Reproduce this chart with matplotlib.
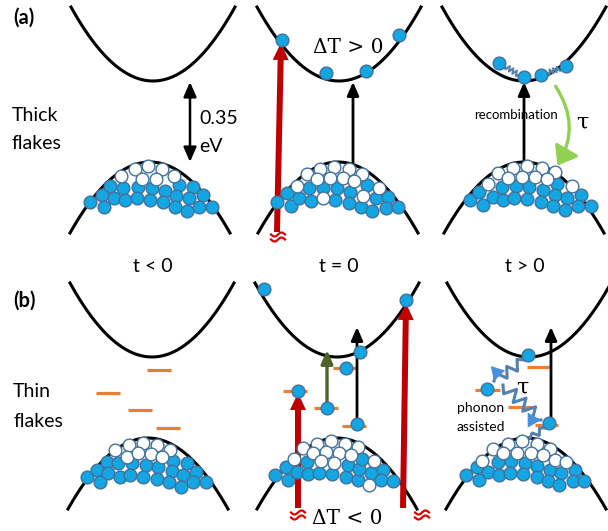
import numpy as np
import matplotlib
matplotlib.use('Agg')
from matplotlib import pyplot as plt
from matplotlib.patches import FancyArrowPatch

plt.rcParams['font.family'] = ['Lato', 'DejaVu Sans']

# pasma: (x, y) wierzcholka pasma przewodnictwa i szczytu pasma walencyjnego
cb_vertices = [(153, 81), (339, 81), (524, 81), (152, 357), (337, 357), (529, 357)]
vb_apexes = [(150, 162), (338, 162), (524, 162), (148, 438), (337, 438), (526, 438)]

# elektrony (pelne) i dziury (puste) w pasmie walencyjnym, panel po panelu
vb_full = [
    [(110, 186), (123, 188), (138, 187), (152, 188), (165, 191), (179, 185), (193, 187),
     (102, 195), (114, 198), (125, 200), (137, 198), (150, 200), (163, 202), (176, 196),
     (189, 198), (203, 195), (90, 202), (104, 207), (175, 207), (187, 211), (199, 207), (212, 207)],
    [(277, 202), (287, 193), (291, 206), (299, 198), (309, 188), (311, 201), (323, 188),
     (335, 200), (337, 188), (350, 192), (349, 203), (361, 207), (367, 185), (372, 211),
     (376, 198), (388, 197), (386, 208), (398, 207)],
    [(470, 200), (479, 192), (483, 205), (493, 197), (502, 187), (503, 200), (516, 186),
     (514, 198), (529, 187), (527, 199), (543, 190), (541, 202), (557, 184), (555, 195),
     (553, 206), (567, 198), (565, 210), (581, 195), (578, 206), (591, 206)],
    [(87, 477), (97, 470), (100, 482), (107, 462), (108, 473), (118, 463), (120, 477),
     (132, 463), (130, 475), (146, 465), (143, 477), (158, 467), (157, 479), (173, 461),
     (172, 471), (169, 482), (187, 463), (183, 475), (181, 487), (196, 472), (193, 482), (206, 482)],
    [(275, 475), (286, 467), (288, 480), (297, 472), (307, 462), (308, 474), (319, 473),
     (332, 474), (346, 477), (348, 465), (358, 480), (359, 469), (362, 459), (371, 473),
     (383, 470), (381, 480), (393, 481)],
    [(466, 475), (477, 467), (479, 480), (488, 472), (498, 462), (499, 475), (511, 461),
     (510, 473), (525, 463), (523, 474), (537, 466), (537, 477), (550, 470), (548, 481),
     (561, 473), (559, 485), (575, 470), (573, 481), (584, 481)],
]
vb_empty = [
    [(121, 176), (135, 169), (148, 166), (162, 169), (174, 176), (142, 179), (156, 179)],
    [(307, 174), (320, 169), (334, 167), (349, 169), (362, 174), (297, 186), (317, 179),
     (330, 178), (343, 178), (354, 181), (323, 198), (363, 196), (379, 188)],
    [(498, 173), (513, 168), (527, 166), (542, 168), (555, 172), (488, 184), (508, 178),
     (522, 177), (535, 177), (547, 179), (572, 186)],
    [(115, 450), (129, 445), (143, 443), (157, 445), (170, 450), (127, 457), (138, 453),
     (151, 454), (162, 457)],
    [(303, 448), (317, 444), (331, 441), (345, 444), (358, 447), (294, 459), (313, 453),
     (326, 452), (339, 453), (351, 455), (321, 461), (334, 463), (374, 461), (369, 485)],
    [(493, 449), (508, 444), (522, 441), (537, 444), (550, 449), (482, 461), (503, 453),
     (517, 453), (531, 453), (543, 455), (555, 460), (566, 462)],
]
# elektrony wzbudzone (w pasmie przewodnictwa i na poziomach pulapkowych)
excited = [(282, 40), (326, 73), (366, 71), (399, 35),
           (499, 63), (524, 77), (541, 75), (566, 66),
           (264, 289), (406, 300), (360, 352), (346, 368), (298, 391), (327, 408), (357, 424),
           (528, 355), (487, 389), (549, 423)]

# poziomy pulapkowe w cienkich platkach: (x_od, x_do, y)
traps = [(147, 171, 370), (96, 120, 393), (128, 152, 410), (156, 180, 428),
         (333, 357, 368), (283, 307, 391), (314, 338, 408), (342, 366, 426),
         (527, 550, 367), (475, 500, 390), (508, 532, 407), (535, 558, 425)]

times = ['t < 0', 't = 0', 't > 0']

BLUE = '#13A6E2'
EDGE = '#41719C'
RED = '#C00000'
WAVE = '#5580B0'
DOT = 84


def zigzag(p0, p1, n, amp):
    p0 = np.array(p0, float)
    p1 = np.array(p1, float)
    d = p1 - p0
    nrm = np.array([-d[1], d[0]]) / np.hypot(*d)
    t = np.linspace(0, 1, 2 * n + 1)
    off = np.zeros_like(t)
    off[1:-1:2] = amp
    off[2:-1:2] = -amp
    pts = p0 + np.outer(t, d) + np.outer(off, nrm)
    return pts[:, 0], pts[:, 1]


def squiggle(ax, x, y):
    # znaczek swiatla pod czerwona strzalka
    xs = np.linspace(-7, 7, 40)
    for dy in (-2.5, 2.5):
        ax.plot(x + xs, y + dy - 2 * np.sin(xs / 7 * np.pi), color='#E00000', lw=1.6, zorder=3)


def black_arrow(ax, x0, y0, x1, y1, color='k', lw=2.0):
    ax.annotate('', xy=(x1, y1), xytext=(x0, y0),
                arrowprops=dict(arrowstyle='-|>,head_length=0.8,head_width=0.35', color=color, lw=lw,
                                shrinkA=0, shrinkB=0, mutation_scale=10), zorder=3)


fig = plt.figure(figsize=(6.08, 5.31), dpi=100)
ax = fig.add_axes([0, 0, 1, 1])
ax.set_xlim(0, 608)
ax.set_ylim(531, 0)
ax.axis('off')

# pasma
for (cx, cy), (vx, vy) in zip(cb_vertices, vb_apexes):
    x = np.linspace(cx - 82, cx + 82, 200)
    ax.plot(x, cy - 74 * ((x - cx) / 82) ** 2, color='k', lw=2.2, zorder=2)
    x = np.linspace(vx - 80, vx + 80, 200)
    ax.plot(x, vy + 71 * ((x - vx) / 80) ** 2, color='k', lw=2.2, zorder=2)

for x0, x1, y in traps:
    ax.plot([x0, x1], [y, y], color='#ED7D31', lw=2.3, zorder=2, solid_capstyle='butt')

# czerwone strzalki - impuls pompujacy
ax.arrow(277, 232, 4, -189, width=6, head_width=16, head_length=17,
         length_includes_head=True, color=RED, lw=0, zorder=3)
ax.arrow(298, 508, 0, -115, width=6, head_width=16, head_length=17,
         length_includes_head=True, color=RED, lw=0, zorder=3)
ax.arrow(403, 508, 3, -205, width=6, head_width=16, head_length=17,
         length_includes_head=True, color=RED, lw=0, zorder=3)
squiggle(ax, 278, 237)
squiggle(ax, 298, 515)
squiggle(ax, 422, 515)

# czarne strzalki - proba
black_arrow(ax, 353, 163, 353, 82)
black_arrow(ax, 524, 163, 524, 82)
black_arrow(ax, 357, 424, 357, 327)
black_arrow(ax, 551, 423, 551, 327)
black_arrow(ax, 327, 408, 327, 350, color='#4F6228', lw=2.4)
ax.annotate('', xy=(190, 82), xytext=(190, 162),
            arrowprops=dict(arrowstyle='<|-|>,head_length=0.8,head_width=0.35', color='k', lw=1.8,
                            shrinkA=0, shrinkB=0, mutation_scale=11))

# rekombinacja
ax.add_patch(FancyArrowPatch((554, 84), (556, 168), connectionstyle='arc3,rad=-0.33',
                             arrowstyle='-|>,head_length=0.6,head_width=0.45', mutation_scale=18,
                             color='#92D050', lw=2.4, zorder=3))

# fonony
for p0, p1 in [((505, 66), (519, 75)), ((547, 73), (561, 68))]:
    ax.plot(*zigzag(p0, p1, 4, 2.5), color=WAVE, lw=1.5, zorder=3)
for p0, p1, n, amp, head in [((525, 360), (494, 381), 3, 5, True),
                             ((503, 385), (541, 420), 4, 6, True),
                             ((545, 428), (530, 438), 2, 3, False)]:
    xs, ys = zigzag(p0, p1, n, amp)
    ax.plot(xs, ys, color=WAVE, lw=2.2, zorder=3)
    if head:
        ax.annotate('', xy=p1, xytext=(xs[-2] * 0.4 + p1[0] * 0.6, ys[-2] * 0.4 + p1[1] * 0.6),
                    arrowprops=dict(arrowstyle='-|>,head_length=0.8,head_width=0.45',
                                    color='#4A90D9', lw=0, shrinkA=0, shrinkB=0, mutation_scale=12),
                    zorder=3)

# kulki
for full, empty in zip(vb_full, vb_empty):
    fx, fy = zip(*full)
    ax.scatter(fx, fy, s=DOT, c=BLUE, edgecolors=EDGE, linewidths=1.0, zorder=4)
    ex, ey = zip(*empty)
    ax.scatter(ex, ey, s=DOT, c='white', edgecolors=EDGE, linewidths=1.0, zorder=4)
ex, ey = zip(*excited)
ax.scatter(ex, ey, s=DOT, c=BLUE, edgecolors=EDGE, linewidths=1.0, zorder=5)

# opisy
ax.text(13, 8, '(a)', fontsize=14.5, fontweight='bold', va='top')
ax.text(13, 291, '(b)', fontsize=14.5, fontweight='bold', va='top')
for txt, x, y in [('Thick', 12, 121), ('flakes', 12, 149), ('Thin', 13, 397), ('flakes', 13, 427),
                  ('0.35', 199, 124), ('eV', 199, 152)]:
    ax.text(x, y, txt, fontsize=14, va='baseline')
for txt, x in zip(times, [153, 339, 525]):
    ax.text(x, 272, txt, fontsize=14, ha='center', va='baseline')
ax.text(313, 53, 'ΔT > 0', fontsize=14.5, family='DejaVu Serif', va='baseline')
ax.text(312, 524, 'ΔT < 0', fontsize=14.5, family='DejaVu Serif', va='baseline')
ax.text(582, 123, 'τ', fontsize=16, family='DejaVu Serif', ha='center', va='center')
ax.text(522, 388, 'τ', fontsize=16, family='DejaVu Serif', ha='center', va='center', zorder=6)
ax.text(516, 119, 'recombination', fontsize=9.5, ha='center', va='baseline', zorder=6)
ax.text(457, 412, 'phonon', fontsize=10, va='baseline', zorder=6)
ax.text(457, 431, 'assisted', fontsize=10, va='baseline', zorder=6)

fig.savefig('out.png', dpi=100)
